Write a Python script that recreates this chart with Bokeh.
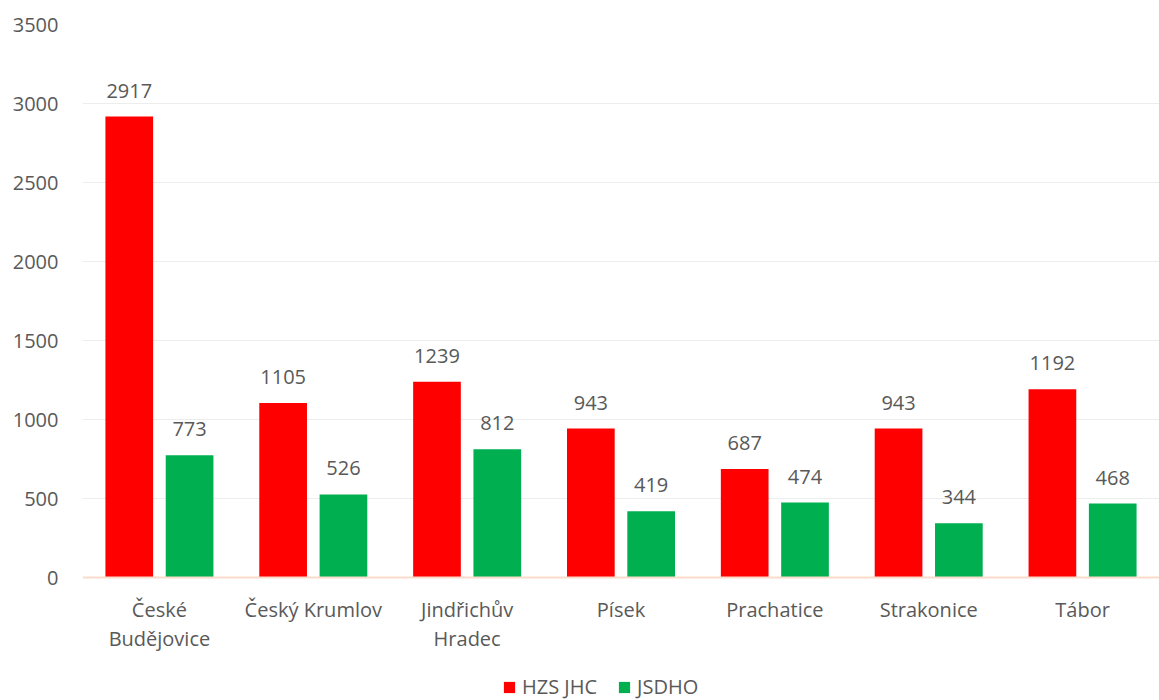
from bokeh.plotting import figure
from bokeh.models import ColumnDataSource, Legend, LegendItem, FixedTicker, Span
from bokeh.transform import dodge
from bokeh.embed import file_html
from bokeh.resources import INLINE
from bokeh.core.properties import value

districts = ["České\nBudějovice", "Český Krumlov", "Jindřichův\nHradec", "Písek",
             "Prachatice", "Strakonice", "Tábor"]
hzs_jhc = [2917, 1105, 1239, 943, 687, 943, 1192]
jsdho = [773, 526, 812, 419, 474, 344, 468]
y_ticks = [0, 500, 1000, 1500, 2000, 2500, 3000, 3500]

FONT = "Open Sans"
TXT = "#595959"
FS = "20px"

src = ColumnDataSource(dict(
    d=districts, hzs=hzs_jhc, js=jsdho,
    hzs_t=[str(v) for v in hzs_jhc], js_t=[str(v) for v in jsdho],
    zero=[0] * len(districts),
))

# frame spans from the top of the chart down to the bottom of the page;
# 3500 sits 553 px above 0, and 123 px are kept below 0 for labels and legend
y_bottom = -3500 * 123 / 553
p = figure(x_range=districts, y_range=(y_bottom, 3500),
           frame_width=1077, frame_height=676,
           output_backend="svg", toolbar_location=None,
           min_border_left=82, min_border_right=0, min_border_top=24,
           min_border_bottom=0)
p.outline_line_color = None

r1 = p.vbar(x=dodge("d", -0.196, range=p.x_range), top="hzs", width=0.31,
            source=src, fill_color="#ff0000", line_color=None)
r2 = p.vbar(x=dodge("d", 0.196, range=p.x_range), top="js", width=0.31,
            source=src, fill_color="#00b050", line_color=None)

p.add_layout(Span(location=0, dimension="width", line_color="#fbdccb",
                  line_width=2))

p.text(x=dodge("d", -0.196, range=p.x_range), y="hzs", text="hzs_t", source=src,
       text_align="center", text_baseline="bottom", y_offset=-19,
       text_font=value(FONT), text_font_size=FS, text_color=TXT)
p.text(x=dodge("d", 0.196, range=p.x_range), y="js", text="js_t", source=src,
       text_align="center", text_baseline="bottom", y_offset=-19,
       text_font=value(FONT), text_font_size=FS, text_color=TXT)

# category labels under the baseline
p.text(x="d", y="zero", text="d", source=src, text_align="center",
       text_baseline="top", y_offset=18, text_line_height=1.1,
       text_font=value(FONT), text_font_size=FS, text_color=TXT)

p.yaxis.ticker = FixedTicker(ticks=y_ticks)
p.yaxis.axis_line_color = None
p.yaxis.major_tick_line_color = None
p.yaxis.minor_tick_line_color = None
p.yaxis.major_label_standoff = 18
p.yaxis.major_label_text_font = FONT
p.yaxis.major_label_text_font_size = FS
p.yaxis.major_label_text_color = TXT

p.xaxis.visible = False

p.xgrid.grid_line_color = None
p.ygrid.ticker = FixedTicker(ticks=y_ticks[1:])
p.ygrid.grid_line_color = "#ededed"
p.ygrid.grid_line_width = 1

legend = Legend(items=[LegendItem(label="HZS JHC", renderers=[r1]),
                       LegendItem(label="JSDHO", renderers=[r2])],
                orientation="horizontal", location=(420, 0),
                label_text_font=FONT, label_text_font_size=FS,
                label_text_color=TXT, glyph_width=14, glyph_height=14,
                spacing=20, padding=0, margin=0, border_line_color=None,
                background_fill_alpha=0, label_standoff=6)
p.add_layout(legend, "center")

open("out.html", "w").write(file_html(p, INLINE))
